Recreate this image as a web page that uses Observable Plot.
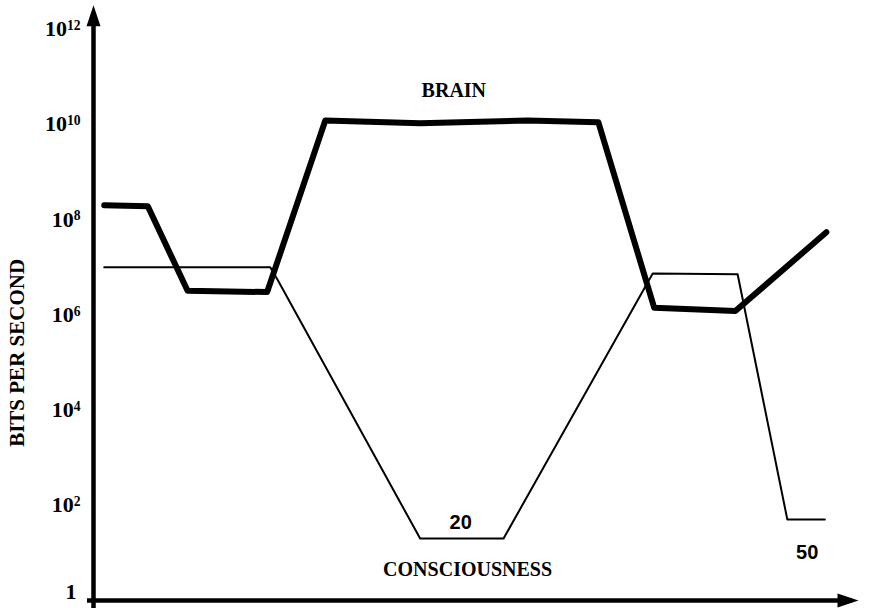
<!DOCTYPE html>
<html>
<head>
<meta charset="utf-8">
<script src="https://cdn.jsdelivr.net/npm/d3@7"></script>
<script src="https://cdn.jsdelivr.net/npm/@observablehq/plot@0.6"></script>
<style>
  body { margin: 0; background: #fff; }
  #chart svg { display: block; }
</style>
</head>
<body>
<div id="chart"></div>
<script>
// Information flow, in bits per second, along an arbitrary stage axis (0–100)
const brainStage = [1.4, 7.1, 12.3, 22.7, 30.3, 42.7, 56.7, 66.0, 73.3, 83.9, 95.8];
const brainBits  = [2.0e8, 1.9e8, 3.2e6, 3.0e6, 1.2e10, 1.05e10, 1.2e10, 1.1e10, 1.4e6, 1.2e6, 5.4e7];

const consStage = [1.4, 23.1, 24.1, 42.7, 53.6, 73.1, 84.2, 90.7, 95.6];
const consBits  = [1e7, 1e7, 5.3e6, 20, 20, 7.4e6, 7.1e6, 50, 50];

// Y tick values (powers of ten) and their exponents
const tickValues    = [1e2, 1e4, 1e6, 1e8, 1e10, 1e12];
const tickExponents = ["2", "4", "6", "8", "10", "12"];

const brain = brainStage.map((s, i) => ({stage: s, bits: brainBits[i]}));
const consciousness = consStage.map((s, i) => ({stage: s, bits: consBits[i]}));

const serif = "'Liberation Serif', 'DejaVu Serif', serif";
const sans = "'Liberation Sans', 'DejaVu Sans', sans-serif";

// Filled arrowhead, tip at the symbol origin, pointing up (fixed pixel size)
const arrowHead = {
  draw(ctx) {
    ctx.moveTo(0, 0);
    ctx.lineTo(7, 21);
    ctx.lineTo(-7, 21);
    ctx.closePath();
  }
};

const yMax = 10 ** 12.6;
const yArrowTip = 10 ** 12.5;
const yTitleAt = 10 ** 5.2;

const chart = Plot.plot({
  width: 871,
  height: 608,
  marginLeft: 93,
  marginRight: 13,
  marginTop: 0,
  marginBottom: 8,
  x: {domain: [0, 100], axis: null},
  y: {type: "log", domain: [1, yMax], axis: null},
  style: {background: "#fff", color: "#000"},
  marks: [
    // axes with arrowheads
    Plot.ruleX([0], {y1: 1, y2: yArrowTip, stroke: "#000", strokeWidth: 4.5, dy: 8}),
    Plot.ruleY([1], {x1: 0, x2: 100, stroke: "#000", strokeWidth: 4.5, dx: -6}),
    Plot.dot([{x: 0, y: yArrowTip}], {x: "x", y: "y", symbol: arrowHead, r: 10, fill: "#000", stroke: null}),
    Plot.dot([{x: 100, y: 1}], {x: "x", y: "y", symbol: arrowHead, r: 10, rotate: 90, fill: "#000", stroke: null}),

    // tick labels
    Plot.text(tickValues, {
      x: 0, y: d => d, text: () => "10", dx: -13,
      textAnchor: "end", fontFamily: serif, fontSize: 22, fontWeight: "bold",
      className: "pow-tick"
    }),
    Plot.text([1], {
      x: 0, y: d => d, text: () => "1", dx: -17, dy: -9,
      textAnchor: "end", fontFamily: serif, fontSize: 22, fontWeight: "bold"
    }),

    // axis title
    Plot.text([yTitleAt], {
      x: 0, y: d => d, text: () => "BITS PER SECOND", dx: -76, rotate: -90,
      fontFamily: serif, fontSize: 21, fontWeight: "bold"
    }),

    // the two series
    Plot.line(consciousness, {x: "stage", y: "bits", stroke: "#000", strokeWidth: 2, strokeLinejoin: "round"}),
    Plot.line(brain, {x: "stage", y: "bits", stroke: "#000", strokeWidth: 6, strokeLinejoin: "round", strokeLinecap: "round"}),

    // series labels and stated values
    Plot.text([{x: 47.1, y: 1.1e10}], {x: "x", y: "y", text: () => "BRAIN", dy: -32,
      fontFamily: serif, fontSize: 20, fontWeight: "bold"}),
    Plot.text([{x: 48.9, y: 20}], {x: "x", y: "y", text: () => "CONSCIOUSNESS", dy: 31,
      fontFamily: serif, fontSize: 20, fontWeight: "bold"}),
    Plot.text([{x: 48.0, y: 20}], {x: "x", y: "y", text: () => String(consBits[3]), dy: -16,
      fontFamily: sans, fontSize: 20, fontWeight: "bold"}),
    Plot.text([{x: 93.3, y: 50}], {x: "x", y: "y", text: () => String(consBits[7]), dy: 33,
      fontFamily: sans, fontSize: 20, fontWeight: "bold"})
  ]
});

// Write exponents as superscripts after the "10"
d3.select(chart).selectAll(".pow-tick text").each(function(d, i) {
  d3.select(this).append("tspan")
    .attr("dy", "-0.45em")
    .attr("font-size", "0.62em")
    .text(tickExponents[i]);
});

document.getElementById("chart").append(chart);
</script>
</body>
</html>
